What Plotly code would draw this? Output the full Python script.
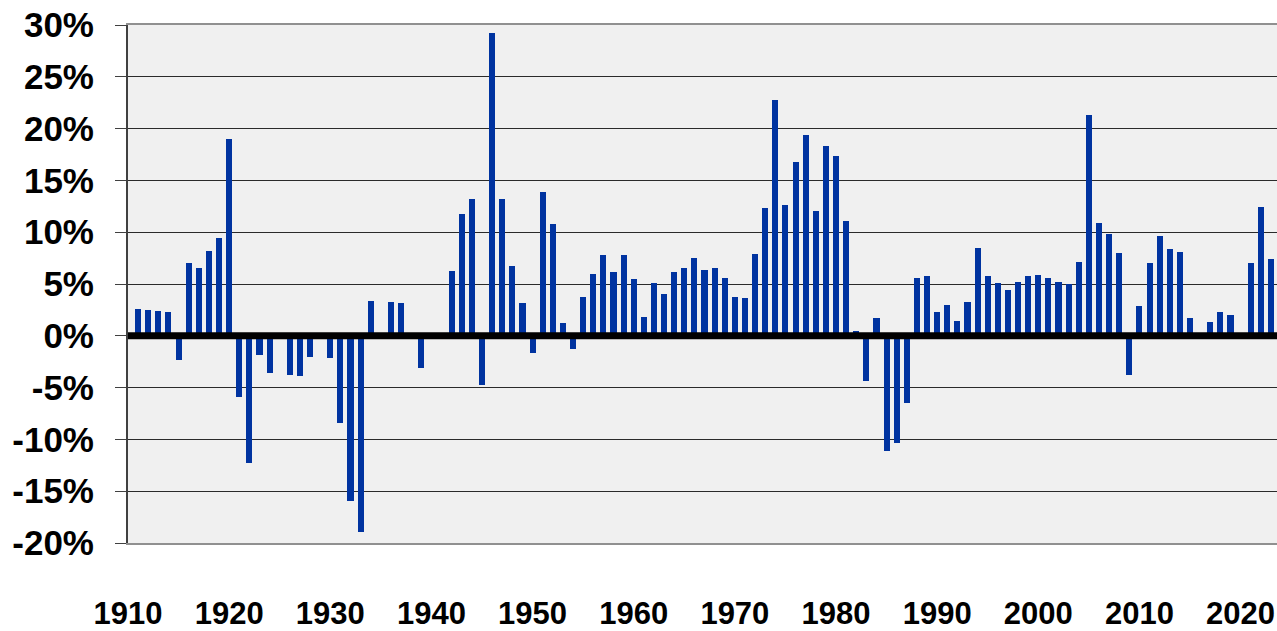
import plotly.graph_objects as go

years = list(range(1911, 2024))
values = [
    2.55, 2.48, 2.41, 2.34, -2.34, 7.0, 6.55, 8.17, 9.48, 18.97,          # 1911-1920
    -5.86, -12.3, -1.83, -3.6, 0.0, -3.8, -3.9, -2.07, 0.0, -2.1,          # 1921-1930
    -8.4, -15.97, -18.97, 3.34, 0.0, 3.24, 3.14, 0.0, -3.1, 0.0,           # 1931-1940
    0.0, 6.28, 11.8, 13.17, -4.76, 29.24, 13.24, 6.69, 3.17, -1.62,        # 1941-1950
    13.86, 10.83, 1.24, -1.31, 3.72, 5.93, 7.83, 6.2, 7.83, 5.45,          # 1951-1960
    1.79, 5.1, 4.07, 6.2, 6.59, 7.55, 6.38, 6.59, 5.62, 3.76,              # 1961-1970
    3.62, 7.93, 12.38, 22.76, 12.59, 16.76, 19.41, 12.03, 18.28, 17.38,    # 1971-1980
    11.1, 0.5, -4.38, 1.72, -11.1, -10.34, -6.48, 5.59, 5.76, 2.28,        # 1981-1990
    2.97, 1.45, 3.24, 8.48, 5.79, 5.14, 4.45, 5.21, 5.79, 5.86,            # 1991-2000
    5.55, 5.24, 5.0, 7.1, 21.34, 10.93, 9.86, 8.0, -3.79, 2.9,             # 2001-2010
    7.0, 9.59, 8.38, 8.07, 1.76, -0.35, 1.38, 2.34, 1.97, 0.0,             # 2011-2020
    7.0, 12.48, 7.41,                                                       # 2021-2023
]

x_tick_years = [1910, 1920, 1930, 1940, 1950, 1960, 1970, 1980, 1990, 2000, 2010, 2020]
x_tick_labels = [str(y) for y in x_tick_years]
y_tick_vals = [-20, -15, -10, -5, 0, 5, 10, 15, 20, 25, 30]
y_tick_labels = ["-20%", "-15%", "-10%", "-5%", "0%", "5%", "10%", "15%", "20%", "25%", "30%"]

FONT = "Liberation Sans, Arial, sans-serif"

fig = go.Figure()
fig.add_trace(go.Bar(
    x=years, y=values, width=0.6,
    marker=dict(color="#0033a0", line=dict(width=0)),
    hoverinfo="x+y",
))

fig.add_shape(type="line", xref="paper", yref="y", x0=0, x1=1, y0=0, y1=0,
              line=dict(color="black", width=7), layer="above")

fig.update_layout(
    width=1277, height=631, autosize=False,
    margin=dict(l=128, r=0, t=25, b=88, pad=0),
    paper_bgcolor="white", plot_bgcolor="#f0f0f0",
    showlegend=False, bargap=0,
    font=dict(family=FONT, color="black"),
)
fig.update_xaxes(
    range=[1910, 2023.6], automargin=False,
    tickmode="array", tickvals=x_tick_years, ticktext=x_tick_labels,
    tickfont=dict(family=FONT, size=31, color="black", weight="bold"),
    showgrid=False, zeroline=False,
    showline=True, linecolor="#909090", linewidth=2, mirror=True,
    ticks="", ticklabelstandoff=42,
)
fig.update_yaxes(
    range=[-20, 30], automargin=False,
    tickmode="array", tickvals=y_tick_vals, ticktext=y_tick_labels,
    tickfont=dict(family=FONT, size=35, color="black", weight="bold"),
    showgrid=True, gridcolor="#2a2a2a", gridwidth=1,
    zeroline=False,
    showline=True, linecolor="#404040", linewidth=2,
    ticks="outside", ticklen=11, tickcolor="#404040", tickwidth=1,
    ticklabelstandoff=14,
)

fig.write_html(
    "out.html",
    config={"displayModeBar": False},
    post_script="document.body.style.margin='0';document.body.style.overflow='hidden';",
)
